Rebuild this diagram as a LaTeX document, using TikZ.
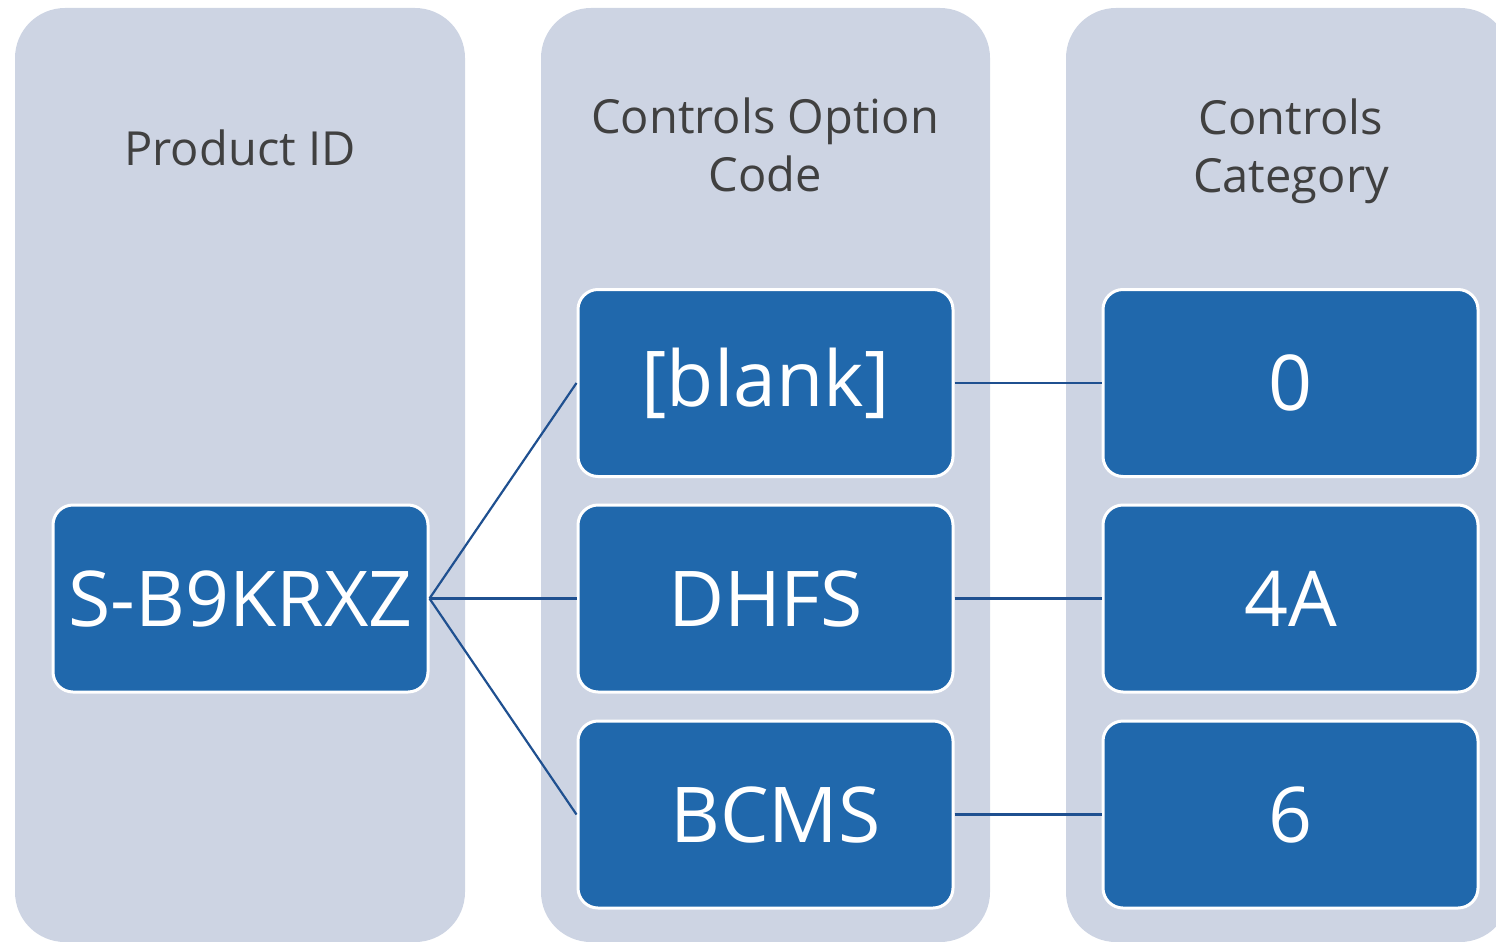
\documentclass[tikz,border=0pt]{standalone}
\usepackage{fontspec}
\setmainfont{Open Sans}
\definecolor{colgray}{HTML}{CDD4E3}
\definecolor{boxblue}{HTML}{2068AC}
\definecolor{linkblue}{HTML}{1F5090}
\definecolor{headgray}{HTML}{404040}
\begin{document}
\begin{tikzpicture}[x=1pt,y=-1pt,
  column/.style={fill=colgray,draw=none,rounded corners=50pt},
  bluebox/.style={draw=white,line width=3pt,fill=boxblue,rounded corners=20pt,
    minimum width=375pt,minimum height=187pt,inner sep=0pt,text=white,
    font=\fontsize{77}{84}\selectfont},
  head/.style={text=headgray,align=center,font=\fontsize{47}{58}\selectfont},
  link/.style={draw=linkblue,line width=2.2pt}]
\useasboundingbox (0,0) rectangle (1496,942);
\clip (0,0) rectangle (1496,942);
\fill[column] (15,8) rectangle (465,942);
\fill[column] (541,8) rectangle (990,942);
\fill[column] (1066,8) rectangle (1510,942);
\node[head] (h1) at (240,148) {Product ID};
\node[head] (h2) at (765,145) {Controls Option\\Code};
\node[head] (h3) at (1291,151) {Controls\\Category};
\node[bluebox] (pid) at (240.5,598.5) {S-B9KRXZ};
\node[bluebox] (blank) at (765.5,383) {[blank]};
\node[bluebox] (dhfs) at (765.5,598.5) {DHFS};
\node[bluebox] (bcms) at (765.5,814.5) {\hspace{20pt}BCMS};
\node[bluebox] (c0) at (1290.5,383) {0};
\node[bluebox] (c4a) at (1290.5,598.5) {4A};
\node[bluebox] (c6) at (1290.5,814.5) {6};
\draw[link] (pid.east) -- (blank.west);
\draw[link] (pid.east) -- (dhfs.west);
\draw[link] (pid.east) -- (bcms.west);
\draw[link] (blank.east) -- (c0.west);
\draw[link] (dhfs.east) -- (c4a.west);
\draw[link] (bcms.east) -- (c6.west);
\end{tikzpicture}
\end{document}
